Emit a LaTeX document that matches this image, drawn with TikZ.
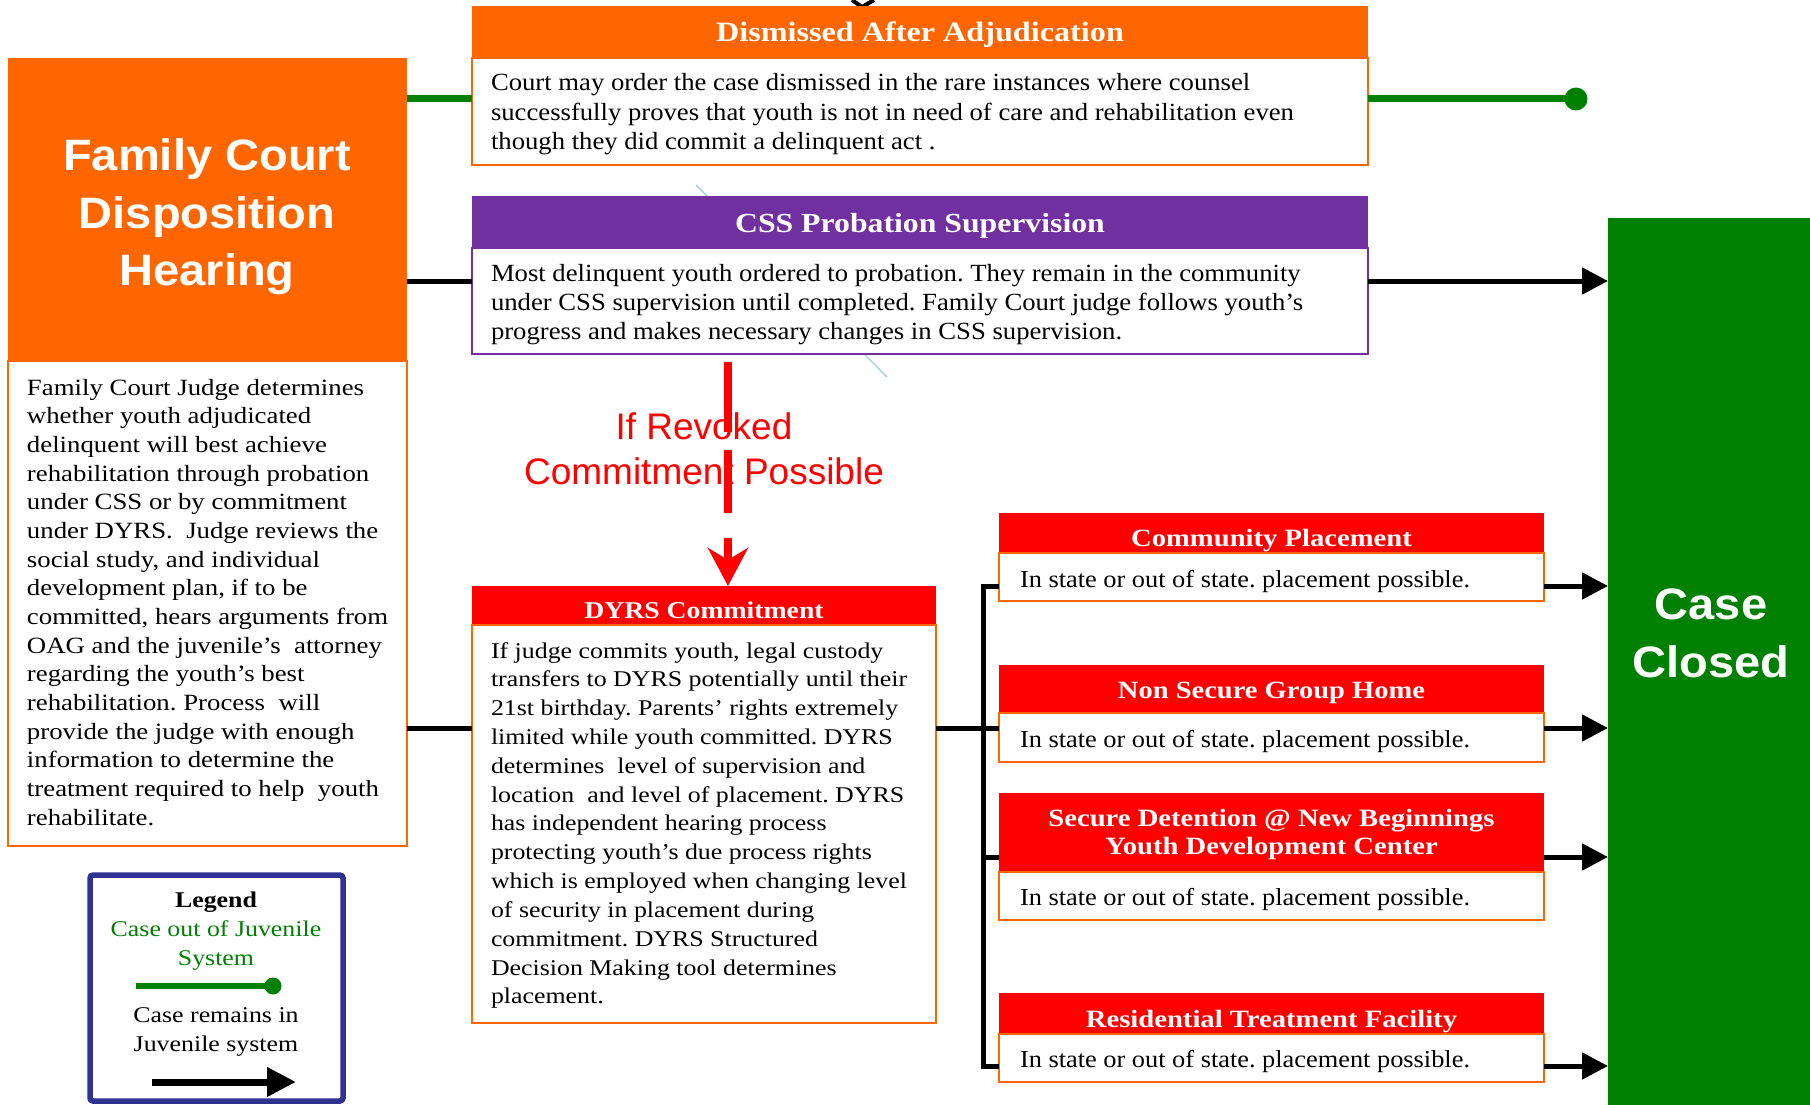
\documentclass[tikz,border=0pt]{standalone}
\usepackage{fontspec}
\setmainfont{Liberation Serif}
\newfontfamily\fa[FakeStretch=1.15]{Liberation Serif}
\newfontfamily\fb[FakeStretch=1.08]{Liberation Serif}
\newfontfamily\sansb[FakeStretch=1.07]{Liberation Sans}
\newfontfamily\sansr{Liberation Sans}
\usetikzlibrary{arrows.meta}
\definecolor{orng}{HTML}{FF6600}
\definecolor{purp}{HTML}{7030A0}
\definecolor{rd}{HTML}{FF0000}
\definecolor{grn}{HTML}{008000}
\definecolor{navy}{HTML}{2E3192}
\definecolor{ltblue}{HTML}{A9D6DB}
\newcommand\txtlines[1]{\begin{tabular}[t]{@{}l@{}}#1\end{tabular}}
\newcommand\ctrlines[1]{\begin{tabular}[t]{@{}c@{}}#1\end{tabular}}
\frenchspacing
\tikzset{
  box/.style={rectangle, inner sep=0pt, outer sep=0pt, anchor=north west},
  hdr/.style={box, fill=#1},
  bdy/.style={box, fill=white, draw=#1, line width=2pt},
  sz/.style 2 args={minimum width=#1pt, minimum height=#2pt},
  txt/.style={inner sep=0pt, outer sep=0pt},
  htxt/.style={txt, anchor=base, text=white},
  gline/.style={grn, line width=7pt},
  kline/.style={black, line width=5pt},
  karrow/.style={kline, -{Triangle[length=26pt,width=26pt]}},
}
\begin{document}
\begin{tikzpicture}[x=1pt,y=-1pt]
\useasboundingbox (0,0) rectangle (1810,1105);
\fill[white] (0,0) rectangle (1810,1105);
% faint diagonal line behind the boxes
\coordinate (diagA) at (696,185);
\coordinate (diagB) at (887,377);
\draw[ltblue, line width=1.5pt] (diagA) -- (diagB);
% small fragment at the top edge
\coordinate (fragA) at (852,0);
\coordinate (fragB) at (862,7);
\coordinate (fragC) at (874,0);
\draw[line width=4pt] (fragA) -- (fragB) -- (fragC);

% ---------- boxes ----------
\node[hdr=orng, sz={399}{303}] (famH) at (8,58) {};
\node[bdy=orng, sz={399}{485}] (famB) at (8,361) {};
\node[hdr=orng, sz={896}{52}] (dismH) at (472,6) {};
\node[bdy=orng, sz={896}{107}] (dismB) at (472,58) {};
\node[hdr=purp, sz={896}{52}] (cssH) at (472,196) {};
\node[bdy=purp, sz={896}{106}] (cssB) at (472,248) {};
\node[hdr=rd, sz={464}{39}] (dyrsH) at (472,586) {};
\node[bdy=orng, sz={464}{398}] (dyrsB) at (472,625) {};
\node[hdr=rd, sz={545}{40}] (commH) at (999,513) {};
\node[bdy=orng, sz={545}{48}] (commB) at (999,553) {};
\node[hdr=rd, sz={545}{48}] (nsH) at (999,665) {};
\node[bdy=orng, sz={545}{49}] (nsB) at (999,713) {};
\node[hdr=rd, sz={545}{79}] (secH) at (999,793) {};
\node[bdy=orng, sz={545}{48}] (secB) at (999,872) {};
\node[hdr=rd, sz={545}{41}] (resH) at (999,993) {};
\node[bdy=orng, sz={545}{48}] (resB) at (999,1034) {};
\node[hdr=grn, sz={202}{887}] (closed) at (1608,218) {};
\node[box, draw=navy, line width=5.5pt, rounded corners=3pt, fill=white, sz={253}{226}] (legend) at (90,875) {};

% ---------- texts ----------
\node[htxt] (famHT) at (207,171) {\sansb\bfseries\fontsize{44}{57.5}\selectfont\ctrlines{Family Court\\Disposition\\Hearing}};
\node[htxt] (closedT) at (1711,619) {\sansb\bfseries\fontsize{44}{58}\selectfont\ctrlines{Case\\Closed}};
\node[txt, anchor=base, text=rd] (revT) at (704,439) {\sansr\fontsize{37}{45}\selectfont\ctrlines{If Revoked\\Commitment Possible}};

\node[txt, anchor=base west] (famBT) at (27,395) {\fa\fontsize{23.3}{28.67}\selectfont\txtlines{%
Family Court Judge determines\\
whether youth adjudicated\\
delinquent will best achieve\\
rehabilitation through probation\\
under CSS or by commitment\\
under DYRS.\ \ Judge reviews the\\
social study, and individual\\
development plan, if to be\\
committed, hears arguments from\\
OAG and the juvenile’s\ \ attorney\\
regarding the youth’s best\\
rehabilitation. Process\ \ will\\
provide the judge with enough\\
information to determine the\\
treatment required to help\ \ youth\\
rehabilitate.}};

\node[htxt] (dismHT) at (920,42) {\fa\bfseries\fontsize{28}{30}\selectfont Dismissed After Adjudication};
\node[txt, anchor=base west] (dismBT) at (491,91) {\fb\fontsize{24.7}{29.4}\selectfont\txtlines{%
Court may order the case dismissed in the rare instances where counsel\\
successfully proves that youth is not in need of care and rehabilitation even\\
though they did commit a delinquent act .}};

\node[htxt] (cssHT) at (920,232) {\fa\bfseries\fontsize{27.6}{30}\selectfont CSS Probation Supervision};
\node[txt, anchor=base west] (cssBT) at (491,281) {\fb\fontsize{24.7}{29}\selectfont\txtlines{%
Most delinquent youth ordered to probation. They remain in the community\\
under CSS supervision until completed. Family Court judge follows youth’s\\
progress and makes necessary changes in CSS supervision.}};

\node[htxt] (dyrsHT) at (704,618) {\fa\bfseries\fontsize{24.1}{28}\selectfont DYRS Commitment};
\node[txt, anchor=base west] (dyrsBT) at (491,658) {\fa\fontsize{22.5}{28.83}\selectfont\txtlines{%
If judge commits youth, legal custody\\
transfers to DYRS potentially until their\\
21st birthday. Parents’ rights extremely\\
limited while youth committed. DYRS\\
determines\ \ level of supervision and\\
location\ \ and level of placement. DYRS\\
has independent hearing process\\
protecting youth’s due process rights\\
which is employed when changing level\\
of security in placement during\\
commitment. DYRS Structured\\
Decision Making tool determines\\
placement.}};

\node[htxt] (commHT) at (1271.5,546) {\fa\bfseries\fontsize{24.9}{28}\selectfont Community Placement};
\node[txt, anchor=base west] (commBT) at (1020,587) {\fb\fontsize{24.4}{28}\selectfont In state or out of state. placement possible.};
\node[htxt] (nsHT) at (1271.5,698) {\fa\bfseries\fontsize{24.8}{28}\selectfont Non Secure Group Home};
\node[txt, anchor=base west] (nsBT) at (1020,747) {\fb\fontsize{24.4}{28}\selectfont In state or out of state. placement possible.};
\node[htxt] (secHT) at (1271.5,826) {\fa\bfseries\fontsize{24.9}{28}\selectfont\ctrlines{Secure Detention @ New Beginnings\\Youth Development Center}};
\node[txt, anchor=base west] (secBT) at (1020,905) {\fb\fontsize{24.4}{28}\selectfont In state or out of state. placement possible.};
\node[htxt] (resHT) at (1271.5,1027) {\fa\bfseries\fontsize{24.9}{28}\selectfont Residential Treatment Facility};
\node[txt, anchor=base west] (resBT) at (1020,1067) {\fb\fontsize{24.4}{28}\selectfont In state or out of state. placement possible.};

% legend texts
\node[txt, anchor=base] (lgT1) at (216,907) {\fa\bfseries\fontsize{22.5}{29}\selectfont Legend};
\node[txt, anchor=base, text=grn] (lgT2) at (216,936) {\fa\fontsize{22.5}{29}\selectfont\ctrlines{Case out of Juvenile\\System}};
\node[txt, anchor=base] (lgT3) at (216,1022) {\fa\fontsize{22.5}{29}\selectfont\ctrlines{Case remains in\\Juvenile system}};

% ---------- connectors ----------
\coordinate (gEnd) at (1576,99);
\draw[gline] (famH.east |- gEnd) -- (dismB.west |- gEnd);
\draw[gline] (dismB.east |- gEnd) -- (gEnd);
\fill[grn] (gEnd) circle (11.5);

\coordinate (yCss) at (0,281);
\draw[kline] (famH.east |- yCss) -- (cssB.west |- yCss);
\draw[karrow] (cssB.east |- yCss) -- (closed.west |- yCss);

\coordinate (yD) at (0,728);
\coordinate (yC) at (0,586);
\coordinate (yS) at (0,857);
\coordinate (yR) at (0,1066);
\coordinate (brk) at (983,0);
\draw[kline] (famB.east |- yD) -- (dyrsB.west |- yD);
\draw[kline] (dyrsB.east |- yD) -- (nsB.west |- yD);
\draw[kline] (commB.west |- yC) -- (brk |- yC) -- (brk |- yR) -- (resB.west |- yR);
\draw[kline] (brk |- yS) -- (secH.west |- yS);
\draw[karrow] (commB.east |- yC) -- (closed.west |- yC);
\draw[karrow] (nsB.east |- yD) -- (closed.west |- yD);
\draw[karrow] (secH.east |- yS) -- (closed.west |- yS);
\draw[karrow] (resB.east |- yR) -- (closed.west |- yR);

\coordinate (rvTop) at (728,362);
\draw[rd, line width=8pt, dash pattern=on 70pt off 18pt on 63pt off 25pt on 300pt,
  -{Stealth[length=38pt,width=40pt,inset=12pt]}] (rvTop) -- (rvTop |- dyrsH.north);

% legend samples
\coordinate (lgA) at (136,986);
\coordinate (lgB) at (273,986);
\draw[gline, line width=6pt] (lgA) -- (lgB);
\fill[grn] (lgB) circle (8.5);
\coordinate (lkA) at (152,1082);
\coordinate (lkB) at (296,1082);
\draw[line width=7pt, -{Triangle[length=29pt,width=28pt]}] (lkA) -- (lkB);
\end{tikzpicture}
\end{document}
